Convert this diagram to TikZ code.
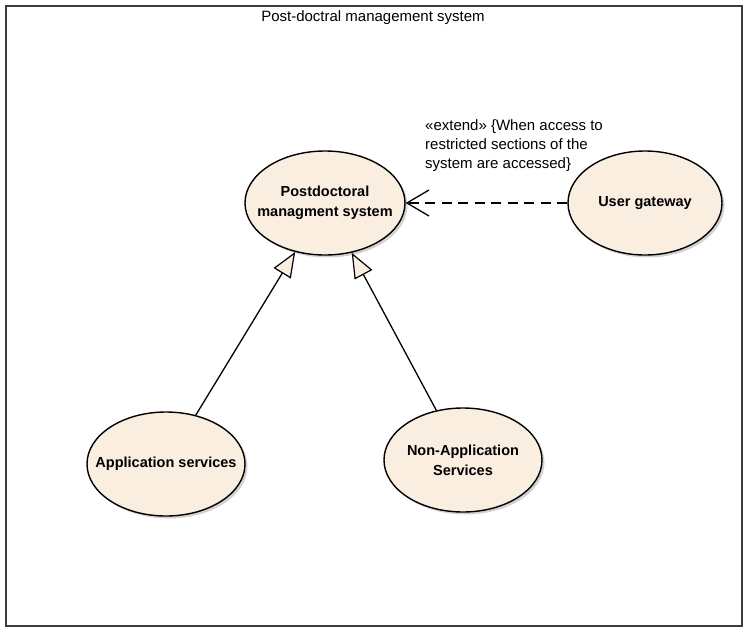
\documentclass[tikz,border=0pt]{standalone}
\usepackage{fontspec}
\setmainfont{Liberation Sans}
\usetikzlibrary{arrows.meta,shapes.geometric,shadows}
\definecolor{ucfill}{RGB}{250,238,224}
\definecolor{framecol}{RGB}{60,60,60}
\tikzset{
  usecase/.style={ellipse, draw=black, line width=1.4pt, fill=ucfill,
    drop shadow={shadow xshift=2.5pt, shadow yshift=-2.5pt, fill=black!35, opacity=0.5},
    inner sep=0pt, minimum height=104pt},
  uctext/.style={align=center, inner sep=0pt, font=\fontsize{14.5}{20}\selectfont\bfseries},
  gen/.style={line width=1.3pt, -{Triangle[open, fill=ucfill, length=25pt, width=20pt, line width=1.2pt]}},
  ext/.style={line width=1.3pt, dash pattern=on 10pt off 6.5pt, -{Straight Barb[length=22pt, width=26pt, line width=1.3pt]}},
  lbl/.style={font=\fontsize{15}{19}\selectfont, align=left, inner sep=0pt}
}
\begin{document}
\begin{tikzpicture}[x=1pt,y=-1pt]
\useasboundingbox (0,0) rectangle (748,635);
\fill[white] (0,0) rectangle (748,635);
\node[draw=framecol, line width=1.8pt, minimum width=736pt, minimum height=620pt, anchor=north west, inner sep=0pt] (frame) at (5,5) {};
\node[font=\fontsize{15}{17}\selectfont, anchor=center] (title) at (373,18) {Post-doctral management system};
\node[usecase, minimum width=160pt, label={[uctext]center:Postdoctoral\\managment system}] (pms) at (325,203) {};
\node[usecase, minimum width=154pt, label={[uctext]center:User gateway}] (ug) at (645,203) {};
\node[usecase, minimum width=158pt, label={[uctext]center:Application services}] (as) at (166,464) {};
\node[usecase, minimum width=158pt, label={[uctext]center:Non-Application\\Services}] (nas) at (463,460) {};
\node[lbl, anchor=north west] (extlbl) at (425,119) {«extend» \{When access to\\restricted sections of the\\system are accessed\}};
\draw[ext] (ug) -- (pms);
\draw[gen] (as) -- (pms);
\draw[gen] (nas) -- (pms);
\end{tikzpicture}
\end{document}
